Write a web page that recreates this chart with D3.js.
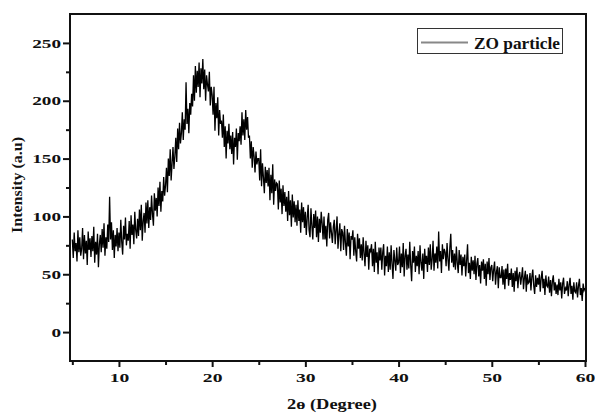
<!DOCTYPE html>
<html>
<head>
<meta charset="utf-8">
<script src="https://cdn.jsdelivr.net/npm/d3@7"></script>
<style>
  html, body { margin: 0; padding: 0; background: #fff; }
  svg { display: block; }
  text { font-family: "Liberation Serif", "Times New Roman", serif; font-weight: bold; fill: #111; }
</style>
</head>
<body>
<svg id="chart" width="595" height="414"></svg>
<script>
// ---- data ----
const angleStart = 5;      // 2θ of first sample (degree)
const angleStep = 0.1;     // sampling step (degree)
const intensity = [
  80,64,86,70,77,61,88,69,82,66,
  72,90,63,84,68,79,58,87,71,81,
  65,83,70,91,60,78,67,85,56,76,
  84,69,89,73,94,66,82,72,93,78,
  117,80,95,71,88,64,84,74,90,70,
  86,73,97,78,67,92,80,99,75,85,
  79,96,72,101,84,93,76,104,88,81,
  98,83,106,88,110,79,96,103,86,112,
  94,114,90,108,97,118,102,92,120,105,
  116,100,125,109,130,104,122,113,134,118,
  127,142,121,150,135,158,131,146,160,141,
  152,168,147,176,158,181,163,172,190,166,
  184,175,216,180,193,172,198,188,206,195,
  222,200,230,207,226,212,233,203,228,215,
  236,210,227,200,222,214,208,225,196,212,
  205,188,212,174,198,185,203,170,192,180,
  183,168,188,160,178,150,174,163,180,158,
  170,154,173,145,168,160,176,149,172,165,
  178,162,190,170,184,166,192,175,186,168,
  170,150,165,142,160,152,138,156,145,150,
  150,131,158,126,146,134,120,143,129,140,
  126,142,114,136,120,145,110,132,122,129,
  128,106,131,112,124,102,127,109,121,104,
  117,96,122,101,114,91,119,99,113,95,
  110,92,114,96,106,86,112,95,108,90,
  104,84,99,110,88,82,107,92,80,102,
  90,105,82,100,78,98,86,104,94,80,
  100,80,92,74,97,103,81,95,86,77,
  91,97,76,88,100,72,85,94,70,89,
  86,71,92,77,66,89,74,86,63,83,
  80,88,66,82,70,61,85,72,81,64,
  76,62,82,68,57,79,65,75,54,72,
  70,76,57,72,52,78,60,69,50,73,
  62,73,54,69,76,49,66,57,74,52,
  69,54,75,59,46,71,62,53,73,58,
  60,74,51,68,56,77,48,66,72,54,
  67,55,78,58,44,70,60,74,52,66,
  57,70,50,75,60,53,68,46,72,59,
  66,52,73,58,76,54,63,79,53,68,
  60,74,55,87,61,70,51,76,63,72,
  69,57,77,63,53,73,85,60,71,56,
  68,54,74,60,51,71,58,67,49,65,
  57,67,48,62,76,51,60,46,65,53,
  62,50,66,45,59,64,48,58,42,61,
  53,63,46,59,40,61,50,64,45,56,
  58,44,54,61,41,52,57,38,56,47,
  47,57,41,54,37,55,46,59,40,51,
  45,55,39,51,35,53,44,56,38,49,
  52,41,48,56,37,47,53,35,50,42,
  43,51,36,48,54,40,33,49,39,47,
  41,50,35,47,53,38,46,32,49,40,
  39,48,34,45,31,44,49,36,43,33,
  41,32,46,36,43,29,42,47,33,38,
  36,44,31,41,47,33,40,28,43,35,
  34,43,30,40,46,32,38,27,42,36,
  38
];
const xMajorTicks = [10, 20, 30, 40, 50, 60];
const xMinorTicks = [5, 15, 25, 35, 45, 55];
const yMajorTicks = [0, 50, 100, 150, 200, 250];
const yMinorTicks = [25, 75, 125, 175, 225];
const seriesName = "ZO particle";
const xTitle = "2ɵ (Degree)";
const yTitle = "Intensity (a.u)";

// ---- layout ----
const svg = d3.select("#chart");
const L = 70, R = 585, T = 14, B = 361;
const x = d3.scaleLinear().domain([4.75, 60]).range([L, R]);
const y = d3.scaleLinear().domain([-25, 275]).range([B, T]);

const points = intensity.map((v, i) => [angleStart + i * angleStep, v]);

// data line
svg.append("path")
  .datum(points)
  .attr("fill", "none")
  .attr("stroke", "#000")
  .attr("stroke-width", 1.3)
  .attr("stroke-linejoin", "miter")
  .attr("d", d3.line().x(d => x(d[0])).y(d => y(d[1])));

// frame
svg.append("rect")
  .attr("x", L).attr("y", T)
  .attr("width", R - L + 1).attr("height", B - T)
  .attr("fill", "none").attr("stroke", "#111").attr("stroke-width", 2);

const fontStack = "'Liberation Serif', 'Times New Roman', serif";

// bottom axis
const gx = svg.append("g").attr("transform", `translate(0,${B})`);
gx.call(d3.axisBottom(x).tickValues(xMajorTicks).tickSize(6).tickPadding(6).tickFormat(d3.format("d")));
gx.append("g").call(d3.axisBottom(x).tickValues(xMinorTicks).tickSize(4).tickFormat(""));
gx.selectAll(".domain").remove();
gx.selectAll("line").attr("stroke", "#111").attr("stroke-width", 2);
gx.selectAll("text")
  .style("font-family", fontStack).style("font-weight", "bold")
  .attr("font-size", 13).attr("fill", "#111")
  .each(function(d) {
    const n = String(d).length;
    d3.select(this).attr("textLength", n * 9.8).attr("lengthAdjust", "spacingAndGlyphs");
  });

// left axis
const gy = svg.append("g").attr("transform", `translate(${L},0)`);
gy.call(d3.axisLeft(y).tickValues(yMajorTicks).tickSize(7).tickPadding(2).tickFormat(d3.format("d")));
gy.append("g").call(d3.axisLeft(y).tickValues(yMinorTicks).tickSize(4).tickFormat(""));
gy.selectAll(".domain").remove();
gy.selectAll("line").attr("stroke", "#111").attr("stroke-width", 2);
gy.selectAll("text")
  .style("font-family", fontStack).style("font-weight", "bold")
  .attr("font-size", 13).attr("fill", "#111")
  .each(function(d) {
    const n = String(d).length;
    d3.select(this).attr("textLength", n * 9.6).attr("lengthAdjust", "spacingAndGlyphs");
  });

// axis titles
svg.append("text")
  .attr("x", 332).attr("y", 409)
  .attr("text-anchor", "middle")
  .attr("font-size", 15)
  .attr("textLength", 90).attr("lengthAdjust", "spacingAndGlyphs")
  .text(xTitle);

svg.append("text")
  .attr("transform", "translate(22,185) rotate(-90)")
  .attr("text-anchor", "middle")
  .attr("font-size", 15)
  .attr("textLength", 96).attr("lengthAdjust", "spacingAndGlyphs")
  .text(yTitle);

// legend
const lg = svg.append("g");
lg.append("rect")
  .attr("x", 417.5).attr("y", 28.5).attr("width", 145).attr("height", 25)
  .attr("fill", "#fff").attr("stroke", "#333").attr("stroke-width", 1);
lg.append("line")
  .attr("x1", 421).attr("x2", 468).attr("y1", 42.5).attr("y2", 42.5)
  .attr("stroke", "#888").attr("stroke-width", 2);
lg.append("text")
  .attr("x", 474).attr("y", 48.5)
  .attr("font-size", 16)
  .attr("textLength", 86).attr("lengthAdjust", "spacingAndGlyphs")
  .text(seriesName);
</script>
</body>
</html>
